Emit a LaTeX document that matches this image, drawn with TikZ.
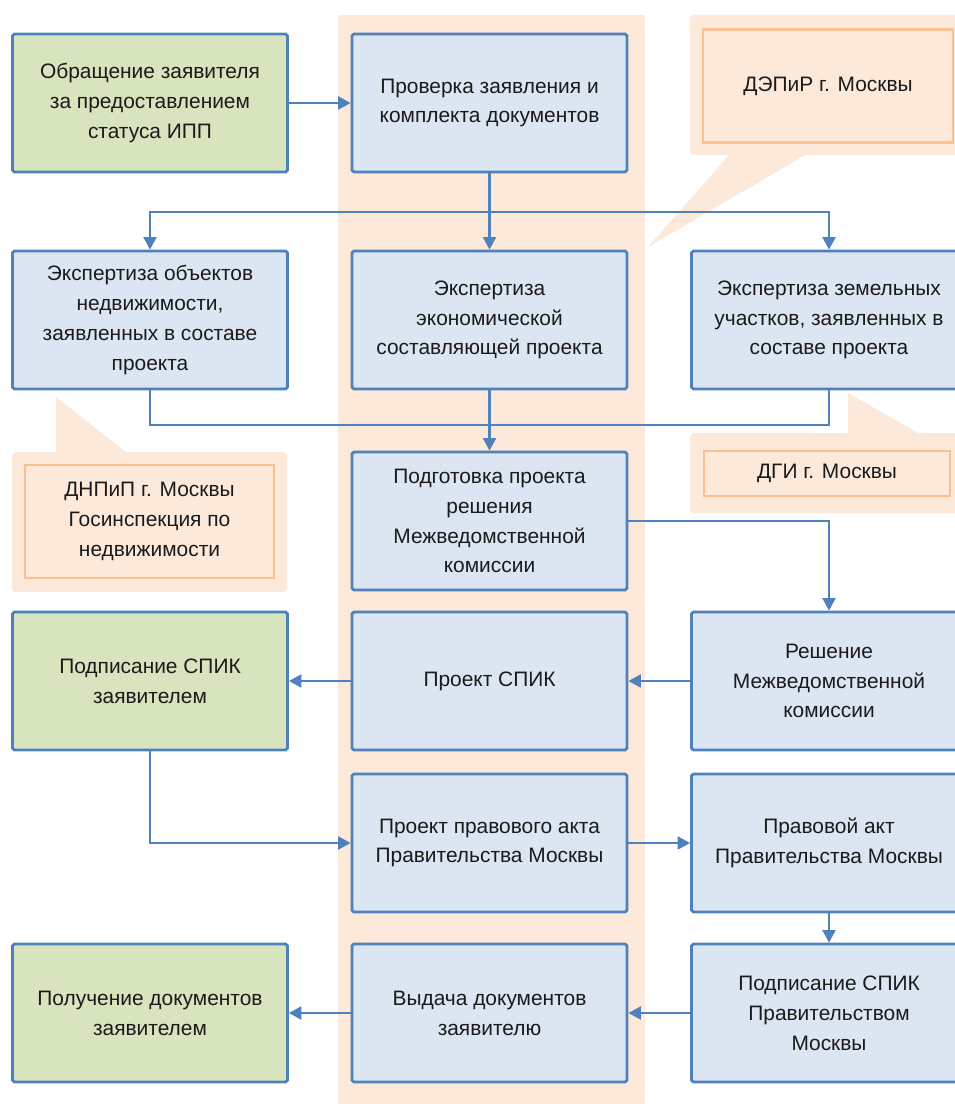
\documentclass[tikz,border=0pt]{standalone}
\usepackage{fontspec}
\setmainfont{Liberation Sans}
\usetikzlibrary{arrows.meta}

\definecolor{boxblue}{HTML}{DCE6F2}
\definecolor{lineblue}{HTML}{4F81BD}
\definecolor{boxgreen}{HTML}{D7E4BD}
\definecolor{peach}{HTML}{FDE9D9}
\definecolor{peachline}{HTML}{FAC090}
\definecolor{ink}{HTML}{1A1A1A}

\begin{document}
\begin{tikzpicture}[
  x=0.02cm, y=-0.02cm,
  >={Triangle[length=2.5mm,width=2.6mm]},
  font=\fontsize{11.9}{17}\selectfont,
  box/.style={draw=lineblue, line width=1.6pt, rounded corners=1pt, align=center,
              text=ink, inner sep=4pt, minimum width=5.5cm, minimum height=2.76cm},
  proc/.style ={box, fill=boxblue},
  appl/.style ={box, fill=boxgreen},
  org/.style  ={draw=peachline, line width=1.6pt, fill=peach, align=center, text=ink,
                inner sep=0pt},
  callout/.style={fill=peach, draw=none, rounded corners=2pt},
  arr/.style  ={->, draw=lineblue, line width=1.2pt},
  conn/.style ={draw=lineblue, line width=1.2pt}
]
    \useasboundingbox (0,0) rectangle (955,1104);
    \clip (0,0) rectangle (955,1104);

    % Middle band behind the central column
    \fill[peach] (338,15) rectangle (645,1110);

    % Callout backgrounds with their tails
    \fill[callout] (690,15) rectangle (965,155);
    \fill[peach] (730,154) -- (648,247) -- (807,154) -- cycle;
    \fill[callout] (12,452) rectangle (287,592);
    \fill[peach] (56,453) -- (56,397) -- (127,453) -- cycle;
    \fill[callout] (690,433) rectangle (965,513);
    \fill[peach] (848,434) -- (848,393) -- (920,434) -- cycle;

    % Organisations
    \node[org, minimum width=5cm, minimum height=2.26cm] (depir) at (828,86)
      {ДЭПиР г. Москвы};
    \node[org, minimum width=4.98cm, minimum height=2.26cm] (dnpip) at (149.5,521.5)
      {ДНПиП г. Москвы\\Госинспекция по\\недвижимости};
    \node[org, minimum width=4.92cm, minimum height=0.9cm] (dgi) at (827,473.5)
      {ДГИ г. Москвы};

    % Row 1
    \node[appl] (ask)   at (150,103)   {Обращение заявителя\\за предоставлением\\статуса ИПП};
    \node[proc] (check) at (489.5,103) {Проверка заявления и\\комплекта документов};

    % Row 2: the three expert reviews
    \node[proc] (realty) at (150,320)   {Экспертиза объектов\\недвижимости,\\заявленных в составе\\проекта};
    \node[proc] (econ)   at (489.5,320) {Экспертиза\\экономической\\составляющей проекта};
    \node[proc] (land)   at (829,320)   {Экспертиза земельных\\участков, заявленных в\\составе проекта};

    % Row 3
    \node[proc] (prep) at (489.5,521) {Подготовка проекта\\решения\\Межведомственной\\комиссии};

    % Row 4
    \node[appl] (signapp)  at (150,681)   {Подписание СПИК\\заявителем};
    \node[proc] (spik)     at (489.5,681) {Проект СПИК};
    \node[proc] (decision) at (829,681)   {Решение\\Межведомственной\\комиссии};

    % Row 5
    \node[proc] (actdraft) at (489.5,843) {Проект правового акта\\Правительства Москвы};
    \node[proc] (act)      at (829,843)   {Правовой акт\\Правительства Москвы};

    % Row 6
    \node[appl] (receive) at (150,1013)   {Получение документов\\заявителем};
    \node[proc] (issue)   at (489.5,1013) {Выдача документов\\заявителю};
    \node[proc] (signgov) at (829,1013)   {Подписание СПИК\\Правительством\\Москвы};

    % Branch and join points
    \coordinate (split) at (489.5,212);
    \coordinate (merge) at (489.5,425);

    % Connectors
    \draw[arr] (ask.east) -- (check.west);
    \draw[arr] (check.south) -- (econ.north);
    \draw[arr] (split) -| (realty.north);
    \draw[arr] (split) -| (land.north);
    \draw[conn] (realty.south) |- (merge) -| (land.south);
    \draw[arr] (econ.south) -- (prep.north);
    \draw[arr] (prep.east) -| (decision.north);
    \draw[arr] (decision.west) -- (spik.east);
    \draw[arr] (spik.west) -- (signapp.east);
    \draw[arr] (signapp.south) |- (actdraft.west);
    \draw[arr] (actdraft.east) -- (act.west);
    \draw[arr] (act.south) -- (signgov.north);
    \draw[arr] (signgov.west) -- (issue.east);
    \draw[arr] (issue.west) -- (receive.east);
\end{tikzpicture}
\end{document}
